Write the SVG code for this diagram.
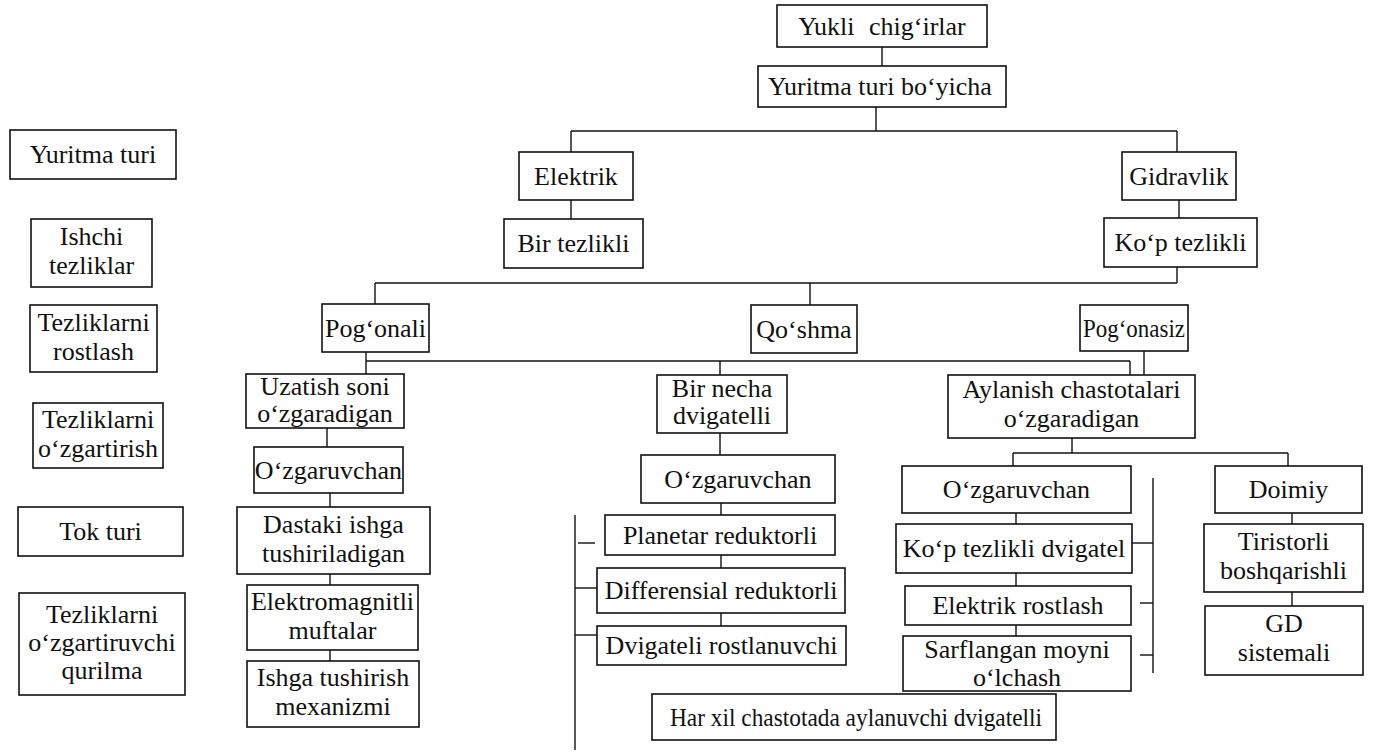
<svg xmlns="http://www.w3.org/2000/svg" width="1377" height="752" viewBox="0 0 1377 752">
<style>
.b{fill:#fff;stroke:#111;stroke-width:1.6}
.t{font-family:"Liberation Serif","Times New Roman",serif;font-size:26px;fill:#111;text-anchor:middle}
.c line{stroke:#111;stroke-width:1.4}
</style>
<rect width="1377" height="752" fill="#fff"/>
<g class="c" id="connectors">
<line x1="882" y1="47" x2="882" y2="66"/>
<line x1="876" y1="107" x2="876" y2="131"/>
<line x1="571" y1="131" x2="1177" y2="131"/>
<line x1="571" y1="131" x2="571" y2="152"/>
<line x1="1177" y1="131" x2="1177" y2="152"/>
<line x1="571" y1="200" x2="571" y2="219"/>
<line x1="1179" y1="200" x2="1179" y2="218"/>
<line x1="1177" y1="267" x2="1177" y2="283"/>
<line x1="375" y1="283" x2="1177" y2="283"/>
<line x1="375" y1="283" x2="375" y2="304"/>
<line x1="810" y1="283" x2="810" y2="305"/>
<line x1="366" y1="352" x2="366" y2="374"/>
<line x1="366" y1="361" x2="1130" y2="361"/>
<line x1="1130" y1="361" x2="1130" y2="375"/>
<line x1="720" y1="361" x2="720" y2="375"/>
<line x1="1144" y1="350" x2="1144" y2="375"/>
<line x1="327" y1="428" x2="327" y2="447"/>
<line x1="330" y1="493" x2="330" y2="507"/>
<line x1="330" y1="574" x2="330" y2="585"/>
<line x1="330" y1="650" x2="330" y2="661"/>
<line x1="720" y1="433" x2="720" y2="455"/>
<line x1="721" y1="503" x2="721" y2="515"/>
<line x1="721" y1="555" x2="721" y2="568"/>
<line x1="721" y1="613" x2="721" y2="626"/>
<line x1="575" y1="515" x2="575" y2="750"/>
<line x1="578" y1="543" x2="595" y2="543"/>
<line x1="575" y1="588" x2="597" y2="588"/>
<line x1="575" y1="635" x2="597" y2="635"/>
<line x1="1072" y1="438" x2="1072" y2="453"/>
<line x1="1013" y1="453" x2="1288" y2="453"/>
<line x1="1013" y1="453" x2="1013" y2="466"/>
<line x1="1288" y1="453" x2="1288" y2="466"/>
<line x1="1016" y1="513" x2="1016" y2="524"/>
<line x1="1016" y1="573" x2="1016" y2="586"/>
<line x1="1016" y1="625" x2="1016" y2="636"/>
<line x1="1153" y1="478" x2="1153" y2="673"/>
<line x1="1132" y1="543" x2="1153" y2="543"/>
<line x1="1140" y1="603" x2="1153" y2="603"/>
<line x1="1140" y1="655" x2="1153" y2="655"/>
<line x1="1292" y1="513" x2="1292" y2="524"/>
<line x1="1292" y1="592" x2="1292" y2="606"/>
</g>
<g id="n_yukli"><rect class="b" x="777" y="5" width="210" height="42"/><text class="t" x="882" y="35" word-spacing="8">Yukli chig‘irlar</text></g>
<g id="n_yuritma"><rect class="b" x="758" y="66" width="248" height="41"/><text class="t" x="880" y="95">Yuritma turi bo‘yicha</text></g>
<g id="n_elektrik"><rect class="b" x="519" y="152" width="114" height="48"/><text class="t" x="576" y="185">Elektrik</text></g>
<g id="n_gidravlik"><rect class="b" x="1122" y="152" width="114" height="48"/><text class="t" x="1179" y="185">Gidravlik</text></g>
<g id="n_bir"><rect class="b" x="504" y="219" width="139" height="49"/><text class="t" x="573.5" y="252">Bir tezlikli</text></g>
<g id="n_kop"><rect class="b" x="1104" y="218" width="153" height="49"/><text class="t" x="1180.5" y="251">Ko‘p tezlikli</text></g>
<g id="n_pogonali"><rect class="b" x="322" y="304" width="107" height="48"/><text class="t" x="375.5" y="337">Pog‘onali</text></g>
<g id="n_qoshma"><rect class="b" x="751" y="305" width="106" height="48"/><text class="t" x="804" y="338">Qo‘shma</text></g>
<g id="n_pogonasiz"><rect class="b" x="1080" y="305" width="108" height="46"/><text class="t" x="1134" y="337" textLength="102" lengthAdjust="spacingAndGlyphs">Pog‘onasiz</text></g>
<g id="n_uzatish"><rect class="b" x="246" y="374" width="158" height="54"/><text class="t" x="325" y="395">Uzatish soni</text><text class="t" x="325" y="422">o‘zgaradigan</text></g>
<g id="n_ozg1"><rect class="b" x="254" y="447" width="149" height="46"/><text class="t" x="328.5" y="479">O‘zgaruvchan</text></g>
<g id="n_dastaki"><rect class="b" x="237" y="507" width="193" height="67"/><text class="t" x="333.5" y="533">Dastaki ishga</text><text class="t" x="333.5" y="562">tushiriladigan</text></g>
<g id="n_elektromag"><rect class="b" x="247" y="585" width="171" height="65"/><text class="t" x="332.5" y="610">Elektromagnitli</text><text class="t" x="332.5" y="639">muftalar</text></g>
<g id="n_ishga"><rect class="b" x="247" y="661" width="172" height="66"/><text class="t" x="333" y="686">Ishga tushirish</text><text class="t" x="333" y="715">mexanizmi</text></g>
<g id="n_birnecha"><rect class="b" x="657" y="375" width="130" height="58"/><text class="t" x="722" y="397">Bir necha</text><text class="t" x="722" y="424">dvigatelli</text></g>
<g id="n_ozg2"><rect class="b" x="641" y="455" width="194" height="48"/><text class="t" x="738" y="488">O‘zgaruvchan</text></g>
<g id="n_planetar"><rect class="b" x="605" y="515" width="230" height="40"/><text class="t" x="720" y="544">Planetar reduktorli</text></g>
<g id="n_diff"><rect class="b" x="597" y="568" width="248" height="45"/><text class="t" x="721" y="599">Differensial reduktorli</text></g>
<g id="n_dvig"><rect class="b" x="597" y="626" width="249" height="39"/><text class="t" x="721.5" y="654">Dvigateli rostlanuvchi</text></g>
<g id="n_har"><rect class="b" x="652" y="694" width="404" height="46"/><text class="t" x="856" y="726" textLength="372" lengthAdjust="spacingAndGlyphs">Har xil chastotada aylanuvchi dvigatelli</text></g>
<g id="n_aylanish"><rect class="b" x="948" y="375" width="247" height="63"/><text class="t" x="1071.5" y="398">Aylanish chastotalari</text><text class="t" x="1071.5" y="427">o‘zgaradigan</text></g>
<g id="n_ozg3"><rect class="b" x="902" y="466" width="229" height="47"/><text class="t" x="1016.5" y="498">O‘zgaruvchan</text></g>
<g id="n_doimiy"><rect class="b" x="1215" y="466" width="147" height="47"/><text class="t" x="1288.5" y="498">Doimiy</text></g>
<g id="n_kopdv"><rect class="b" x="896" y="524" width="236" height="49"/><text class="t" x="1014" y="557">Ko‘p tezlikli dvigatel</text></g>
<g id="n_elros"><rect class="b" x="905" y="586" width="226" height="39"/><text class="t" x="1018" y="614">Elektrik rostlash</text></g>
<g id="n_sarf"><rect class="b" x="903" y="636" width="228" height="55"/><text class="t" x="1017" y="658">Sarflangan moyni</text><text class="t" x="1017" y="686">o‘lchash</text></g>
<g id="n_tir"><rect class="b" x="1204" y="524" width="159" height="68"/><text class="t" x="1283.5" y="550">Tiristorli</text><text class="t" x="1283.5" y="579">boshqarishli</text></g>
<g id="n_gd"><rect class="b" x="1205" y="606" width="158" height="69"/><text class="t" x="1284" y="632">GD</text><text class="t" x="1284" y="661">sistemali</text></g>
<g id="l_yuritma"><rect class="b" x="10" y="130" width="166" height="49"/><text class="t" x="93" y="163">Yuritma turi</text></g>
<g id="l_ishchi"><rect class="b" x="31" y="219" width="121" height="68"/><text class="t" x="91.5" y="245">Ishchi</text><text class="t" x="91.5" y="274">tezliklar</text></g>
<g id="l_rostlash"><rect class="b" x="30" y="305" width="127" height="67"/><text class="t" x="93.5" y="331">Tezliklarni</text><text class="t" x="93.5" y="360">rostlash</text></g>
<g id="l_ozgartirish"><rect class="b" x="33" y="403" width="130" height="65"/><text class="t" x="98" y="428">Tezliklarni</text><text class="t" x="98" y="457">o‘zgartirish</text></g>
<g id="l_tok"><rect class="b" x="18" y="507" width="165" height="49"/><text class="t" x="100.5" y="540">Tok turi</text></g>
<g id="l_qurilma"><rect class="b" x="19" y="593" width="166" height="102"/><text class="t" x="102" y="623">Tezliklarni</text><text class="t" x="102" y="651">o‘zgartiruvchi</text><text class="t" x="102" y="679">qurilma</text></g>
</svg>
